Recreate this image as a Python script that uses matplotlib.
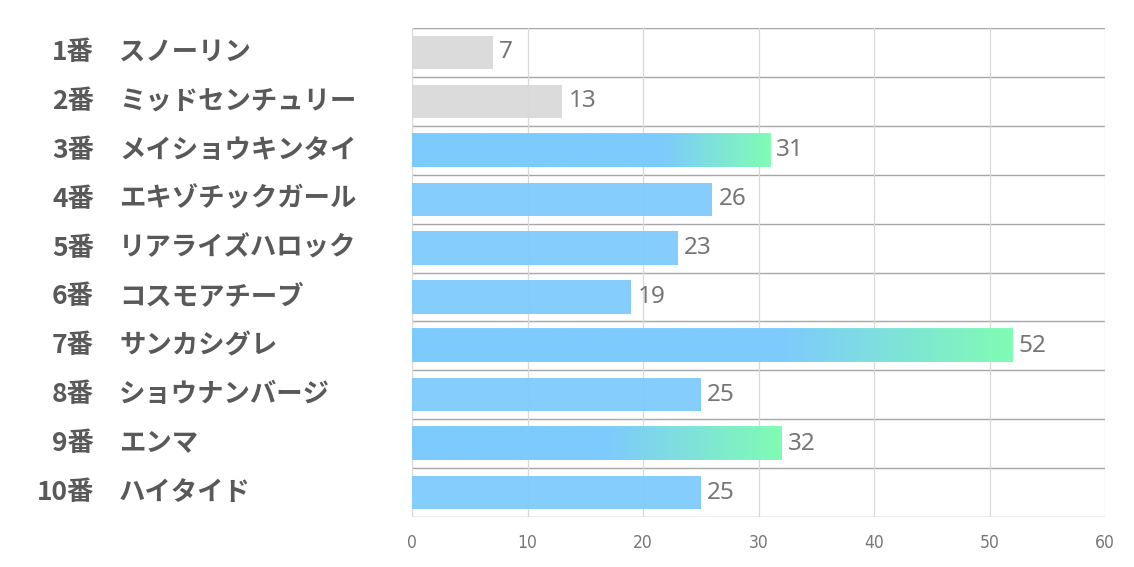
import numpy as np
import matplotlib.pyplot as plt
import matplotlib.transforms as mtransforms
from matplotlib.colors import to_rgb

# データ
numbers = ['1番', '2番', '3番', '4番', '5番', '6番', '7番', '8番', '9番', '10番']
names = ['スノーリン', 'ミッドセンチュリー', 'メイショウキンタイ', 'エキゾチックガール',
         'リアライズハロック', 'コスモアチーブ', 'サンカシグレ', 'ショウナンバージ',
         'エンマ', 'ハイタイド']
values = [7, 13, 31, 26, 23, 19, 52, 25, 32, 25]
xticks = [0, 10, 20, 30, 40, 50, 60]

# 色の設定
GRIS = '#D9D9D9'
AZUL = '#7DCBFD'
VERDE = '#80FFB0'
gris_idx = [0, 1]
# グラデーション開始位置 (バー長さに対する割合)
grad_start = {2: 0.70, 6: 0.62, 8: 0.53}

fig = plt.figure(figsize=(11.34, 5.67), dpi=100)
ax = fig.add_axes([412 / 1134, 1 - 517 / 567, 693 / 1134, 489 / 567])

n = len(values)
ys = np.arange(n)
alto = 0.68

for i, v in enumerate(values):
    color = GRIS if i in gris_idx else AZUL
    ax.barh(ys[i], v, height=alto, color=color, alpha=0.95, zorder=2)
    if i in grad_start:
        f = grad_start[i]
        w = 256
        t = np.clip((np.linspace(0, 1, w) - f) / (1 - f), 0, 1)
        c0 = np.array(to_rgb(AZUL))
        c1 = np.array(to_rgb(VERDE))
        img = (c0[None, :] * (1 - t[:, None]) + c1[None, :] * t[:, None])[None, :, :]
        ax.imshow(img, extent=(0, v, ys[i] + alto / 2, ys[i] - alto / 2),
                  aspect='auto', zorder=3, alpha=0.95, interpolation='bilinear')
    ax.annotate(str(v), (v, ys[i]), xytext=(4.5, 0), textcoords='offset points',
                va='center', ha='left', fontsize=17.5, color='#767676',
                family=['Noto Sans', 'DejaVu Sans'])

ax.set_xlim(0, 60)
ax.set_ylim(n - 0.5, -0.5)

# 区切り線とグリッド
for y in np.arange(-0.5, n, 1):
    ax.axhline(y, color='#A6A6A6', lw=1.0, zorder=1)
for x in xticks:
    ax.axvline(x, color='#D9D9D9', lw=0.9, zorder=1)

for s in ax.spines.values():
    s.set_visible(False)
ax.set_yticks([])
ax.set_xticks(xticks)
ax.set_xticklabels([str(x) for x in xticks], fontsize=12.5, color='#767676',
                   family=['Liberation Sans Narrow', 'DejaVu Sans'],
                   fontstretch='condensed')
ax.tick_params(axis='x', length=0, pad=12)

# 馬番・馬名ラベル
trans = mtransforms.blended_transform_factory(fig.transFigure, ax.transData)
for i in range(n):
    ax.text(94 / 1134, ys[i], numbers[i], transform=trans, ha='right', va='center',
            fontsize=19, fontweight='bold', color='#595959',
            family=['Noto Sans CJK JP', 'DejaVu Sans'])
    ax.text(119 / 1134, ys[i], names[i], transform=trans, ha='left', va='center',
            fontsize=19, fontweight='bold', color='#595959',
            family=['Noto Sans CJK JP', 'DejaVu Sans'])

fig.savefig('out.png', dpi=100)
